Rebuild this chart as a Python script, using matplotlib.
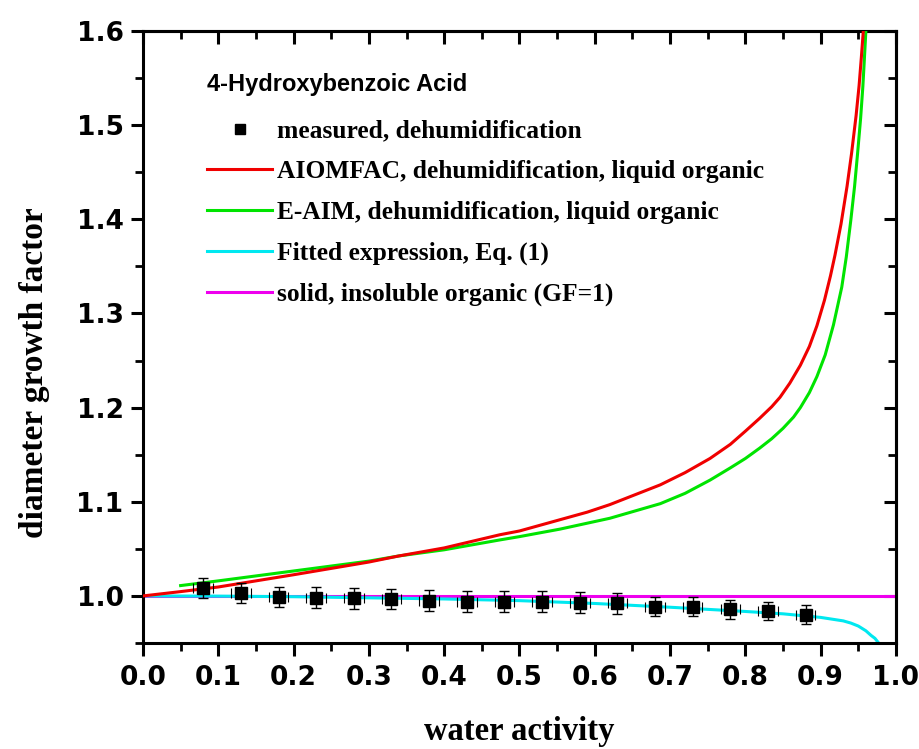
import matplotlib
matplotlib.use("Agg")
import matplotlib.pyplot as plt
from matplotlib.ticker import MultipleLocator

# measured, dehumidification
aw_meas = [0.08, 0.13, 0.18, 0.23, 0.28, 0.33, 0.38, 0.43, 0.48,
           0.53, 0.58, 0.63, 0.68, 0.73, 0.78, 0.83, 0.88]
gf_meas = [1.0085, 1.003, 0.999, 0.998, 0.9975, 0.9968, 0.995, 0.994, 0.994,
           0.994, 0.993, 0.992, 0.9887, 0.9887, 0.986, 0.984, 0.980]
gf_err = [0.011, 0.011, 0.011, 0.011, 0.011, 0.011, 0.011, 0.011, 0.011,
          0.011, 0.011, 0.011, 0.010, 0.010, 0.010, 0.010, 0.010]
aw_err = 0.013

# AIOMFAC, dehumidification, liquid organic
aw_aiomfac = [0.0, 0.05, 0.10, 0.20, 0.30, 0.34, 0.40, 0.474, 0.50, 0.554, 0.59,
              0.62, 0.687, 0.72, 0.753, 0.78, 0.80, 0.819, 0.835, 0.846, 0.859,
              0.873, 0.885, 0.895, 0.905, 0.913, 0.919, 0.927, 0.935, 0.941,
              0.947, 0.951, 0.954, 0.9566, 0.958]
gf_aiomfac = [1.0, 1.0046, 1.0095, 1.0225, 1.036, 1.0425, 1.051, 1.065, 1.069, 1.081,
              1.089, 1.097, 1.118, 1.131, 1.146, 1.161, 1.175, 1.1887, 1.201, 1.211,
              1.226, 1.245, 1.265, 1.287, 1.314, 1.340, 1.362, 1.395, 1.435, 1.47,
              1.51, 1.542, 1.572, 1.60, 1.615]

# E-AIM, dehumidification, liquid organic
aw_eaim = [0.05, 0.10, 0.20, 0.30, 0.34, 0.40, 0.474, 0.50, 0.554, 0.62, 0.687,
           0.72, 0.753, 0.78, 0.80, 0.819, 0.835, 0.85, 0.864, 0.873, 0.885, 0.895,
           0.906, 0.917, 0.928, 0.934, 0.940, 0.945, 0.949, 0.953, 0.956, 0.958,
           0.960, 0.961]
gf_eaim = [1.011, 1.016, 1.0265, 1.037, 1.0425, 1.049, 1.0595, 1.063, 1.071, 1.0825,
           1.098, 1.109, 1.123, 1.136, 1.146, 1.157, 1.167, 1.178, 1.190, 1.200,
           1.216, 1.233, 1.256, 1.288, 1.328, 1.36, 1.399, 1.435, 1.470, 1.507,
           1.541, 1.57, 1.60, 1.615]

# Fitted expression, Eq. (1)
aw_fit = [0.0, 0.1, 0.2, 0.3, 0.4, 0.5, 0.6, 0.7, 0.8, 0.85, 0.9, 0.93, 0.94,
          0.95, 0.96, 0.967, 0.972, 0.977]
gf_fit = [1.0, 0.9998, 0.9992, 0.998, 0.9968, 0.995, 0.992, 0.988, 0.9835, 0.981,
          0.9772, 0.9735, 0.9712, 0.968, 0.963, 0.958, 0.955, 0.950]

# solid, insoluble organic (GF=1)
aw_solid = [0.0, 1.0]
gf_solid = [1.0, 1.0]

fig = plt.figure(figsize=(9.2, 7.49), dpi=100)
ax = fig.add_axes([0.1554, 0.1415, 0.8185, 0.8171])

lw = 2.2
ax.plot(aw_solid, gf_solid, color="#ee00ee", lw=lw, zorder=2)
ax.plot(aw_fit, gf_fit, color="#00e8f0", lw=lw, zorder=2)
ax.plot(aw_eaim, gf_eaim, color="#00e400", lw=lw, zorder=3)
ax.plot(aw_aiomfac, gf_aiomfac, color="#f00000", lw=lw, zorder=3)

eb = ax.errorbar(aw_meas, gf_meas, yerr=gf_err, xerr=aw_err, fmt="none",
                 ecolor="black", elinewidth=1.0, capsize=3.8, capthick=1.0, zorder=4)
eb[2][0].set_visible(False)  # pas de trait horizontal, seulement les caps
for cap in eb[1][:2]:
    cap.set_color("0.35")
    cap.set_markeredgewidth(0.8)
ax.plot(aw_meas, gf_meas, "s", color="black", ms=8.5, zorder=5)

# legend handles
h_meas = plt.Line2D([], [], ls="none", marker="s", color="black", ms=7.5)
h_aio = plt.Line2D([], [], color="#f00000", lw=lw)
h_eaim = plt.Line2D([], [], color="#00e400", lw=lw)
h_fit = plt.Line2D([], [], color="#00e8f0", lw=lw)
h_sol = plt.Line2D([], [], color="#ee00ee", lw=lw)
leg = ax.legend([h_meas, h_aio, h_eaim, h_fit, h_sol],
                ["measured, dehumidification",
                 "AIOMFAC, dehumidification, liquid organic",
                 "E-AIM, dehumidification, liquid organic",
                 "Fitted expression, Eq. (1)",
                 "solid, insoluble organic (GF=1)"],
                loc="upper left", bbox_to_anchor=(0.085, 0.855), frameon=False,
                borderpad=0, borderaxespad=0, handlelength=2.55, handletextpad=0.2,
                labelspacing=0.69,
                prop={"family": "Liberation Serif", "weight": "bold", "size": 18.4})

ax.text(0.085, 0.913, "4-Hydroxybenzoic Acid", transform=ax.transAxes,
        family="Liberation Sans", weight="bold", fontsize=17, va="center", ha="left")

ax.set_xlim(0.0, 1.0)
ax.set_ylim(0.95, 1.6)
ax.xaxis.set_major_locator(MultipleLocator(0.1))
ax.xaxis.set_minor_locator(MultipleLocator(0.05))
ax.yaxis.set_major_locator(MultipleLocator(0.1))
ax.yaxis.set_minor_locator(MultipleLocator(0.05))
ax.xaxis.set_major_formatter(lambda v, p: f"{v:.1f}")
ax.yaxis.set_major_formatter(lambda v, p: f"{v:.1f}")

for s in ax.spines.values():
    s.set_linewidth(2.2)
ax.tick_params(which="major", direction="out", length=9, width=2.2)
ax.tick_params(which="minor", direction="out", length=5.5, width=2.0)
ax.tick_params(axis="x", which="major", pad=7)
ax.tick_params(axis="y", which="major", pad=5)
for lab in ax.get_xticklabels() + ax.get_yticklabels():
    lab.set_family("DejaVu Sans")
    lab.set_weight("bold")
    lab.set_fontsize(19)

# top and right ticks pointing inwards
top = ax.secondary_xaxis("top")
top.xaxis.set_major_locator(MultipleLocator(0.1))
top.xaxis.set_minor_locator(MultipleLocator(0.05))
top.tick_params(which="major", direction="in", length=9, width=2.2, labeltop=False)
top.tick_params(which="minor", direction="in", length=5.5, width=2.0)
right = ax.secondary_yaxis("right")
right.yaxis.set_major_locator(MultipleLocator(0.1))
right.yaxis.set_minor_locator(MultipleLocator(0.05))
right.tick_params(which="major", direction="in", length=9, width=2.2, labelright=False)
right.tick_params(which="minor", direction="in", length=5.5, width=2.0)
for sec in (top, right):
    for s in sec.spines.values():
        s.set_linewidth(2.2)

ax.set_xlabel("water activity", family="Liberation Serif", weight="bold", fontsize=23.5)
ax.set_ylabel("diameter growth factor", family="Liberation Serif", weight="bold", fontsize=24)
ax.xaxis.set_label_coords(0.5, -0.12)
ax.yaxis.set_label_coords(-0.124, 0.441)

fig.savefig("out.png", dpi=100)
